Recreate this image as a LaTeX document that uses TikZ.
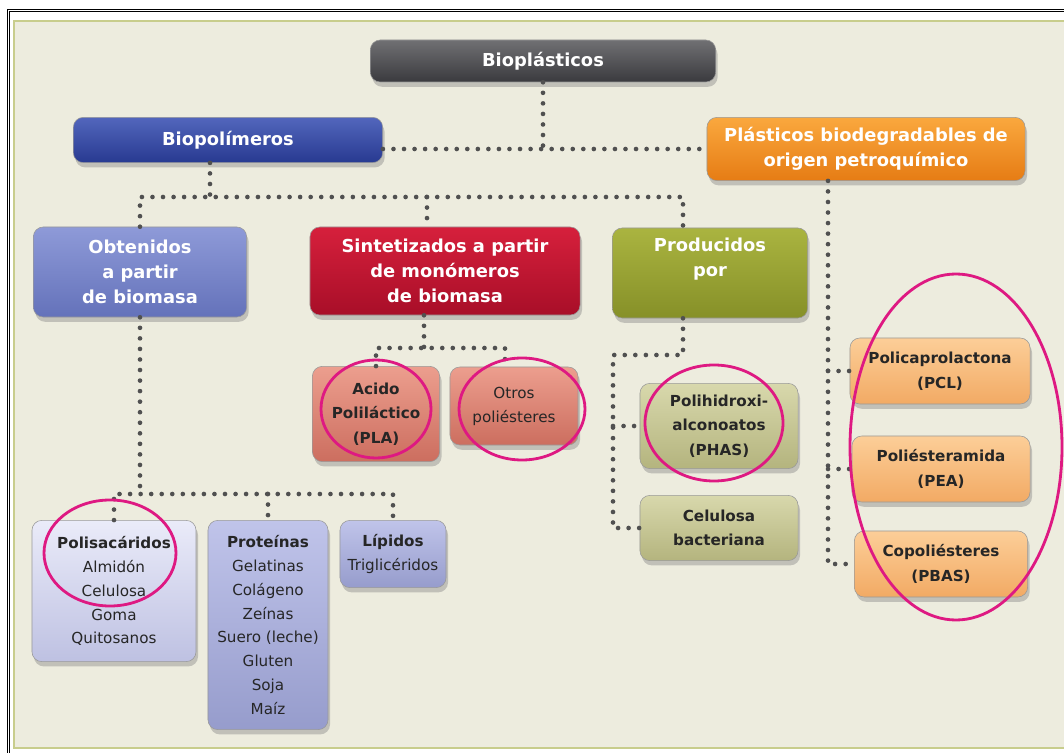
\documentclass[tikz,border=0pt]{standalone}
\usepackage{fontspec}
\setmainfont{DejaVu Sans}
\usetikzlibrary{shadows}

\definecolor{bgcol}{RGB}{237,236,222}
\definecolor{panelline}{RGB}{200,205,140}
\definecolor{dotgrey}{RGB}{80,80,80}
\definecolor{ringpink}{RGB}{222,25,130}
\definecolor{grTop}{RGB}{112,112,115}\definecolor{grBot}{RGB}{58,58,62}
\definecolor{blTop}{RGB}{82,102,188}\definecolor{blBot}{RGB}{40,58,145}
\definecolor{orTop}{RGB}{250,168,62}\definecolor{orBot}{RGB}{230,124,20}
\definecolor{peTop}{RGB}{142,154,216}\definecolor{peBot}{RGB}{100,114,186}
\definecolor{rdTop}{RGB}{214,32,60}\definecolor{rdBot}{RGB}{168,14,40}
\definecolor{olTop}{RGB}{170,180,64}\definecolor{olBot}{RGB}{134,144,40}
\definecolor{saTop}{RGB}{236,158,142}\definecolor{saBot}{RGB}{204,110,95}
\definecolor{poTop}{RGB}{216,216,172}\definecolor{poBot}{RGB}{180,180,126}
\definecolor{pcTop}{RGB}{252,206,152}\definecolor{pcBot}{RGB}{242,170,100}
\definecolor{lvTop}{RGB}{234,235,249}\definecolor{lvBot}{RGB}{190,193,226}
\definecolor{lwTop}{RGB}{192,196,234}\definecolor{lwBot}{RGB}{150,156,204}

\tikzset{
  box/.style={rounded corners=7pt, align=center, inner sep=0pt, draw=black!40,
    drop shadow={opacity=0.4, shadow xshift=0.05cm, shadow yshift=-0.12cm}},
  head/.style={box, text=white, font=\fontsize{12.7}{17.7}\selectfont\bfseries},
  leaf/.style={box, text=black!85, font=\fontsize{10.8}{17}\selectfont},
  leafb/.style={leaf, font=\fontsize{10.8}{17.5}\selectfont\bfseries},
  dots/.style={draw=dotgrey, line width=3.3pt, line cap=round, dash pattern=on 0pt off 7.5pt},
  ring/.style={draw=ringpink, line width=2pt},
}

\begin{document}
\begin{tikzpicture}[x=0.025cm, y=-0.025cm]
\useasboundingbox (0,0) rectangle (1064,753);
\fill[white] (0,0) rectangle (1064,753);
\draw[double, double distance=1pt, line width=0.6pt] (8.5,753) -- (8.5,10.5) -- (1064,10.5);
\filldraw[fill=bgcol, draw=panelline, line width=0.8pt] (14,21) rectangle (1070,748);

% top levels
\node[head, top color=grTop, bottom color=grBot, minimum width=8.63cm, minimum height=1.05cm] (bio) at (543,61) {Bioplásticos};
\node[head, top color=blTop, bottom color=blBot, minimum width=7.73cm, minimum height=1.13cm] (biopol) at (228,140) {Biopolímeros};
\node[head, top color=orTop, bottom color=orBot, minimum width=7.95cm, minimum height=1.58cm] (petro) at (866,149) {Plásticos biodegradables de\\origen petroquímico};

\node[head, top color=peTop, bottom color=peBot, minimum width=5.33cm, minimum height=2.25cm] (obt) at (140,272) {Obtenidos\\a partir\\de biomasa};
\node[head, top color=rdTop, bottom color=rdBot, minimum width=6.75cm, minimum height=2.2cm] (sint) at (445,271) {Sintetizados a partir\\de monómeros\\de biomasa};
\node[head, top color=olTop, bottom color=olBot, minimum width=4.88cm, minimum height=2.25cm] (prod) at (710,273) {Producidos\\por\\\strut};

% leaves
\node[leafb, top color=saTop, bottom color=saBot, minimum width=3.18cm, minimum height=2.38cm] (pla) at (376,414) {Acido\\Poliláctico\\(PLA)};
\node[leaf, top color=saTop, bottom color=saBot, minimum width=3.2cm, minimum height=1.95cm] (otros) at (514,406) {Otros\\poliésteres};
\node[leafb, top color=poTop, bottom color=poBot, minimum width=3.95cm, minimum height=2.13cm] (pha) at (719,426) {Polihidroxi-\\alconoatos\\(PHAS)};
\node[leafb, top color=poTop, bottom color=poBot, minimum width=3.95cm, minimum height=1.63cm] (celb) at (719,528) {Celulosa\\bacteriana};
\node[leafb, top color=pcTop, bottom color=pcBot, minimum width=4.5cm, minimum height=1.65cm] (pcl) at (940,371) {Policaprolactona\\(PCL)};
\node[leafb, top color=pcTop, bottom color=pcBot, minimum width=4.45cm, minimum height=1.65cm] (pea) at (941,469) {Poliésteramida\\(PEA)};
\node[leafb, top color=pcTop, bottom color=pcBot, minimum width=4.33cm, minimum height=1.65cm] (pbas) at (941,564) {Copoliésteres\\(PBAS)};
\node[leaf, top color=lvTop, bottom color=lvBot, minimum width=4.1cm, minimum height=3.53cm] (polis) at (114,591) {\textbf{Polisacáridos}\\Almidón\\Celulosa\\Goma\\Quitosanos};
\node[leaf, top color=lwTop, bottom color=lwBot, minimum width=3.0cm, minimum height=5.23cm] (prot) at (268,625) {\textbf{Proteínas}\\Gelatinas\\Colágeno\\Zeínas\\Suero (leche)\\Gluten\\Soja\\Maíz};
\node[leaf, top color=lwTop, bottom color=lwBot, minimum width=2.65cm, minimum height=1.68cm] (lip) at (393,554) {\textbf{Lípidos}\\Triglicéridos};

% junctions
\coordinate (k1) at (210,197);
\coordinate (k2) at (683,197);
\coordinate (k3) at (427,197);
\coordinate (k4) at (424,348);
\coordinate (k5) at (505,348);
\coordinate (k6) at (683,355);
\coordinate (k7) at (613,355);
\coordinate (k8) at (828,188);
\coordinate (k9) at (140,494);

% dotted connectors
\draw[dots] (bio) -- (bio |- petro.west);
\draw[dots] (biopol.east |- petro.west) -- (petro.west);
\draw[dots] (biopol.south -| k1) -- (k1);
\draw[dots] (obt) |- (k2) -- (prod.north -| k2);
\draw[dots] (k3) -- (sint.north -| k3);
\draw[dots] (sint.south -| k4) -- (k4);
\draw[dots] (pla) |- (k5) -- (otros.north -| k5);
\draw[dots] (prod.south -| k6) -- (k6) -- (k7) |- (celb);
\draw[dots] (k7 |- pha) -- (pha);
\draw[dots] (petro.south -| k8) |- (pbas);
\draw[dots] (k8 |- pcl) -- (pcl);
\draw[dots] (k8 |- pea) -- (pea);
\draw[dots] (obt) -- (k9);
\draw[dots] (polis) |- (k9) -| (lip);
\draw[dots] (k9 -| prot) -- (prot);

% highlight rings
\draw[ring] (376,409) ellipse [x radius=55, y radius=49];
\draw[ring] (522,409) ellipse [x radius=63, y radius=51];
\draw[ring] (714,423) ellipse [x radius=69, y radius=58];
\draw[ring] (110,553) ellipse [x radius=66, y radius=53];
\draw[ring] (956,447) ellipse [x radius=106, y radius=173];
\end{tikzpicture}
\end{document}
